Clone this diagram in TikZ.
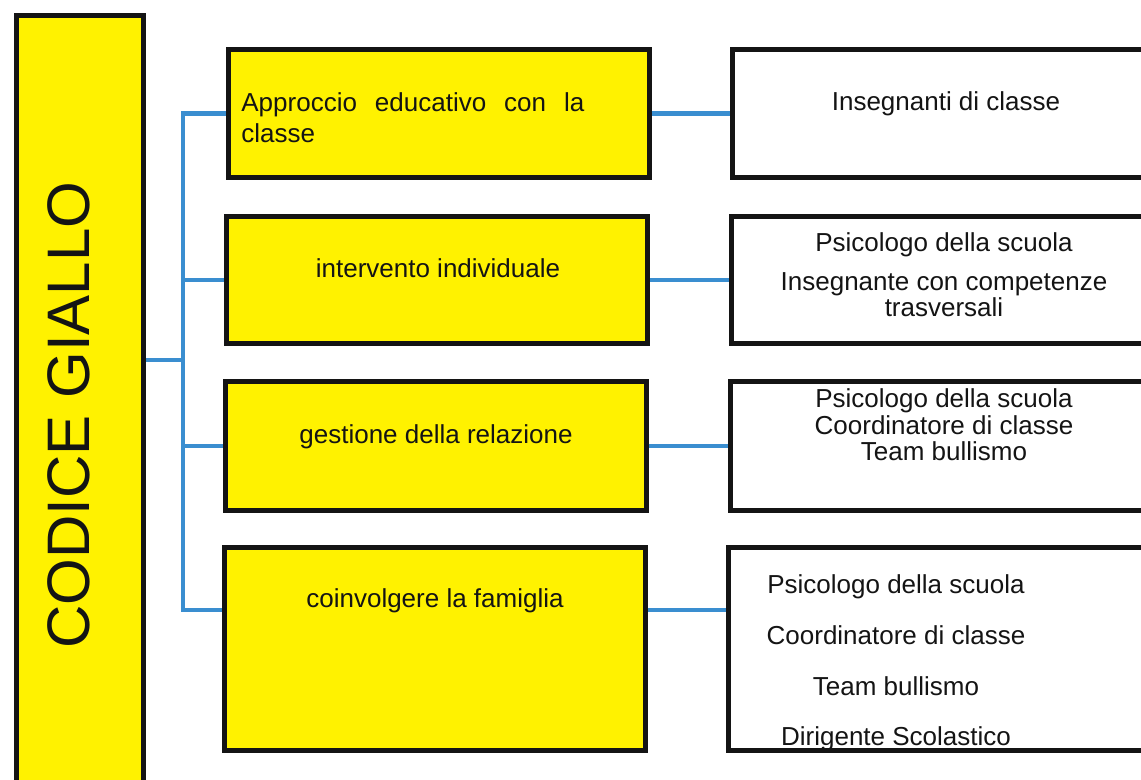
\documentclass[tikz,border=0pt]{standalone}
\usepackage{fontspec}
\setmainfont{Liberation Sans}
\usetikzlibrary{calc}
\usetikzlibrary{positioning}
\definecolor{myyellow}{RGB}{255,242,0}
\definecolor{myblue}{RGB}{58,142,208}
\colorlet{myblack}{black!92}
\tikzstyle{yellow box}=[draw=myblack,fill=myyellow,line width=2.5pt,inner sep=0pt]
\tikzstyle{white box}=[draw=myblack,fill=white,line width=2.5pt,inner sep=0pt]
\tikzstyle{branch}=[myblue,line width=2.2pt]
\tikzstyle{box text}=[text=myblack,inner sep=0pt,align=center,
  font=\fontsize{13}{13.3}\selectfont]

\begin{document}
\begin{tikzpicture}[x=0.5pt,y=-0.5pt]
  \useasboundingbox (0,0) rectangle (1141,780);
  \clip (0,0) rectangle (1141,780);

  \def\bw{210.5pt} % width of the yellow boxes
  \def\rw{214pt} % width of the white boxes (cut at the right edge)

  % LEFT BOX
  \node[yellow box,minimum width=63.5pt,minimum height=392pt] (codice) at (80,408) {};
  \node[box text,rotate=90,font=\fontsize{30}{36}\selectfont] (codicetxt) at (68.5,415) {CODICE GIALLO};

  % YELLOW BOXES
  \node[yellow box,minimum width=\bw,minimum height=64pt] (Y1) at (439,113.5) {};
  \node[yellow box,minimum width=\bw,minimum height=63.5pt] (Y2) at (437,280) {};
  \node[yellow box,minimum width=\bw,minimum height=64.5pt] (Y3) at (435.5,446) {};
  \node[yellow box,minimum width=\bw,minimum height=101pt] (Y4) at (434.5,649) {};

  \node[box text,align=left,anchor=west] (Y1txt) at (241,117.5)
    {\makebox[171.5pt][s]{Approccio\hfill educativo\hfill con\hfill la}\\[2.2pt]classe};
  \node[box text] (Y2txt) at (438,268) {intervento individuale};
  \node[box text] (Y3txt) at (436,437) {gestione della relazione};
  \node[box text] (Y4txt) at (435,601) {coinvolgere la famiglia};

  % WHITE BOXES
  \node[white box,minimum width=\rw,minimum height=64pt] (R1) at (946,113.5) {};
  \node[white box,minimum width=\rw,minimum height=63.5pt] (R2) at (945,280) {};
  \node[white box,minimum width=\rw,minimum height=64.5pt] (R3) at (944,446) {};
  \node[white box,minimum width=\rw,minimum height=101pt] (R4) at (942,649) {};

  \node[box text] (R1txt) at (946,104) {Insegnanti di classe};
  \node[box text] (R2txt) at (944,275)
    {Psicologo della scuola\\[6pt]Insegnante con competenze\\trasversali};
  \node[box text] (R3txt) at (944,425)
    {Psicologo della scuola\\Coordinatore di classe\\Team bullismo};
  \node[box text] (R4txt) at (896,663)
    {Psicologo della scuola\\[12pt]Coordinatore di classe\\[12pt]Team bullismo\\[12pt]Dirigente Scolastico};

  % CONNECTORS
  \coordinate (knot) at (183,360);
  \coordinate (b4) at (183,610);
  \draw[branch] (codice.east |- knot) -- (knot);
  \draw[branch] (Y1.west) -- (knot |- Y1.west) -- (b4) -- (b4 -| Y4.west);
  \draw[branch] (knot |- Y2.west) -- (Y2.west);
  \draw[branch] (knot |- Y3.west) -- (Y3.west);

  \draw[branch] (Y1.east) -- (R1.west);
  \draw[branch] (Y2.east) -- (Y2.east -| R2.west);
  \draw[branch] (Y3.east) -- (Y3.east -| R3.west);
  \draw[branch] (b4 -| Y4.east) -- (b4 -| R4.west);

\end{tikzpicture}
\end{document}
